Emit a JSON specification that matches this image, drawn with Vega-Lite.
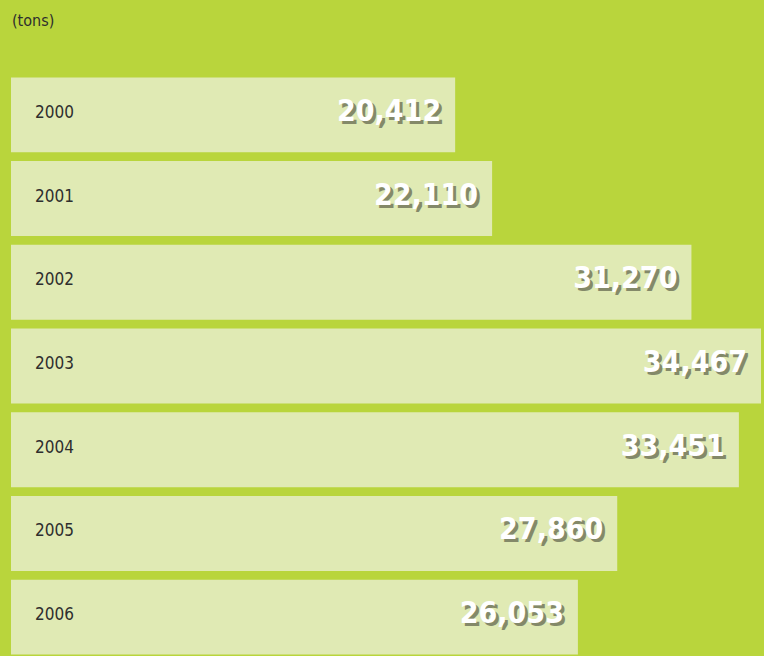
{
  "$schema": "https://vega.github.io/schema/vega-lite/v6.json",
  "width": 750,
  "height": 586,
  "autosize": {"type": "none"},
  "padding": {"left": 11, "top": 73, "right": 3, "bottom": 0},
  "background": "#b9d53c",
  "config": {"view": {"stroke": null}},
  "title": {
    "text": "(tons)",
    "anchor": "start",
    "frame": "group",
    "orient": "top",
    "offset": 44,
    "dx": 1,
    "font": "DejaVu Sans Condensed, Roboto, sans-serif",
    "fontSize": 16,
    "fontWeight": "normal",
    "color": "#2e2e2e"
  },
  "data": {
    "values": [
      {"year": "2000", "tons": 20412},
      {"year": "2001", "tons": 22110},
      {"year": "2002", "tons": 31270},
      {"year": "2003", "tons": 34467},
      {"year": "2004", "tons": 33451},
      {"year": "2005", "tons": 27860},
      {"year": "2006", "tons": 26053}
    ]
  },
  "encoding": {
    "y": {
      "field": "year",
      "type": "ordinal",
      "axis": null,
      "scale": {"paddingInner": 0.105, "paddingOuter": 0.0525}
    }
  },
  "layer": [
    {
      "mark": {"type": "bar", "color": "#e0eab4", "cornerRadius": 0},
      "encoding": {
        "x": {"field": "tons", "type": "quantitative", "axis": null, "scale": {"domain": [0, 34467], "nice": false, "zero": true}}
      }
    },
    {
      "mark": {"type": "text", "align": "left", "baseline": "middle", "dx": 24, "dy": -2, "font": "DejaVu Sans Condensed, Roboto, sans-serif", "fontSize": 17, "color": "#2e2e2e"},
      "encoding": {
        "x": {"datum": 0, "type": "quantitative"},
        "text": {"field": "year"}
      }
    },
    {
      "mark": {"type": "text", "align": "right", "baseline": "middle", "dx": -11, "dy": 0, "font": "DejaVu Sans Condensed, Roboto, sans-serif", "fontSize": 30, "fontWeight": "bold", "color": "#2a2a20", "opacity": 0.5},
      "encoding": {
        "x": {"field": "tons", "type": "quantitative"},
        "text": {"field": "tons", "type": "quantitative", "format": ","}
      }
    },
    {
      "mark": {"type": "text", "align": "right", "baseline": "middle", "dx": -14, "dy": -3, "font": "DejaVu Sans Condensed, Roboto, sans-serif", "fontSize": 30, "fontWeight": "bold", "color": "#ffffff"},
      "encoding": {
        "x": {"field": "tons", "type": "quantitative"},
        "text": {"field": "tons", "type": "quantitative", "format": ","}
      }
    }
  ]
}
